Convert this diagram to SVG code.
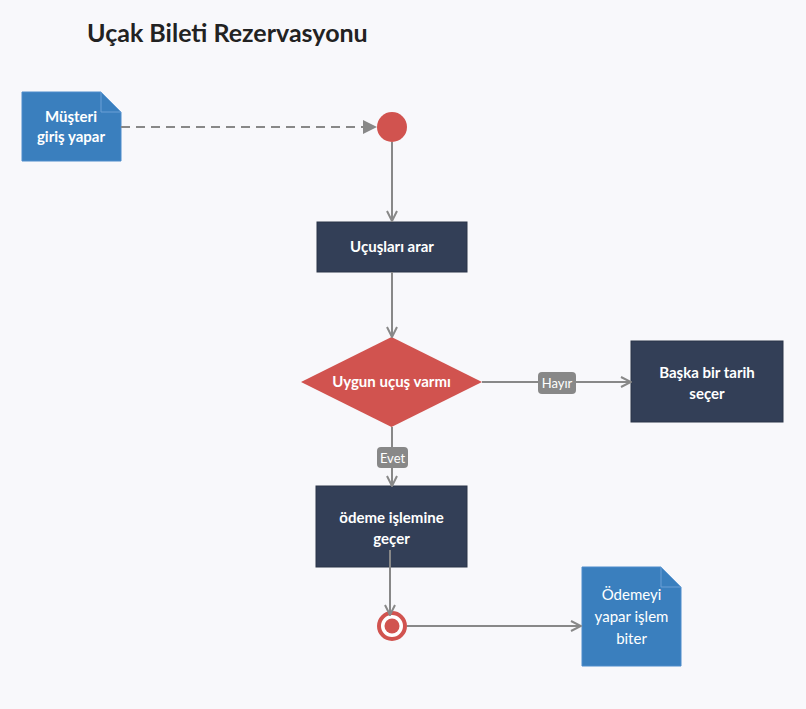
<svg xmlns="http://www.w3.org/2000/svg" width="806" height="709" viewBox="0 0 806 709">
  <defs>
    <style>
      .bg { fill: #f8f8fb; }
      .box { fill: #333f57; stroke: #2a3448; stroke-width: 1; }
      .note { fill: #3a7fbe; stroke: #4d8ccb; stroke-width: 1; }
      .fold { fill: #3a7fbe; stroke: #6aa0d6; stroke-width: 1; }
      .edge { fill: none; stroke: #888888; stroke-width: 2; }
      .dash { stroke-dasharray: 9 6; }
      .lbl { fill: #888888; }
      .t { font-family: Lato, "Liberation Sans", sans-serif; fill: #ffffff; text-anchor: middle; }
      .b { font-weight: bold; font-size: 15px; }
      .n { font-size: 15px; }
      .s { font-size: 13px; }
      .title { font-family: Lato, "Liberation Sans", sans-serif; font-weight: bold; font-size: 25px; fill: #222222; }
    </style>
    <marker id="chev" viewBox="0 0 12 12" refX="11" refY="6" markerWidth="12" markerHeight="12" markerUnits="userSpaceOnUse" orient="auto">
      <path d="M1,1 L11,6 L1,11" fill="none" stroke="#888888" stroke-width="2"/>
    </marker>
    <marker id="tri" viewBox="0 0 14 14" refX="13" refY="7" markerWidth="14" markerHeight="14" markerUnits="userSpaceOnUse" orient="auto">
      <path d="M0,0 L14,7 L0,14 Z" fill="#888888"/>
    </marker>
  </defs>
  <rect class="bg" x="0" y="0" width="806" height="709"/>
  <text class="title" x="87" y="42">Uçak Bileti Rezervasyonu</text>

  <g id="note-musteri">
    <path class="note" d="M22,92 L101,92 L121,112 L121,161 L22,161 Z"/>
    <path class="fold" d="M101,92 L101,112 L121,112 Z"/>
    <text class="t b" x="71" y="122">Müşteri</text>
    <text class="t b" x="71" y="142">giriş yapar</text>
  </g>

  <g id="start">
    <circle cx="392" cy="127" r="15" fill="#d1534f"/>
  </g>

  <g id="ucuslari-arar">
    <rect class="box" x="317" y="222" width="150" height="50"/>
    <text class="t b" x="392" y="252">Uçuşları arar</text>
  </g>

  <g id="uygun-ucus">
    <path d="M391.5,337 L482,382 L391.5,427 L301,382 Z" fill="#d1534f"/>
    <text class="t b" x="391.5" y="387">Uygun uçuş varmı</text>
  </g>

  <g id="baska-tarih">
    <rect class="box" x="631" y="341" width="152" height="81"/>
    <text class="t b" x="707" y="378">Başka bir tarih</text>
    <text class="t b" x="707" y="399">seçer</text>
  </g>

  <g id="odeme-islemine">
    <rect class="box" x="316" y="486" width="151" height="81"/>
    <text class="t b" x="391.5" y="523">ödeme işlemine</text>
    <text class="t b" x="391.5" y="544">geçer</text>
  </g>

  <g id="end">
    <circle cx="392" cy="626" r="13" fill="#ffffff" stroke="#d1534f" stroke-width="4"/>
    <circle cx="392" cy="626" r="7.5" fill="#d1534f"/>
  </g>

  <g id="note-odemeyi">
    <path class="note" d="M582,567 L661,567 L681,587 L681,666 L582,666 Z"/>
    <path class="fold" d="M661,567 L661,587 L681,587 Z"/>
    <text class="t n" x="631.5" y="600">Ödemeyi</text>
    <text class="t n" x="631.5" y="622">yapar işlem</text>
    <text class="t n" x="631.5" y="644">biter</text>
  </g>

  <g id="connectors">
    <path class="edge dash" d="M121,127 L376,127" marker-end="url(#tri)"/>
    <path class="edge" d="M392,142 L392,221" marker-end="url(#chev)"/>
    <path class="edge" d="M392,272 L392,337" marker-end="url(#chev)"/>
    <path class="edge" d="M482,382 L631,382" marker-end="url(#chev)"/>
    <path class="edge" d="M392,427 L392,486" marker-end="url(#chev)"/>
    <path class="edge" d="M390,550 L390,615" marker-end="url(#chev)"/>
    <path class="edge" d="M407,626 L581,626" marker-end="url(#chev)"/>
    <g id="label-hayir">
      <rect class="lbl" x="538" y="372" width="38" height="22" rx="4"/>
      <text class="t s" x="557" y="387.5">Hayır</text>
    </g>
    <g id="label-evet">
      <rect class="lbl" x="377" y="447" width="31" height="21" rx="4"/>
      <text class="t s" x="392.5" y="462.5">Evet</text>
    </g>
  </g>
</svg>
